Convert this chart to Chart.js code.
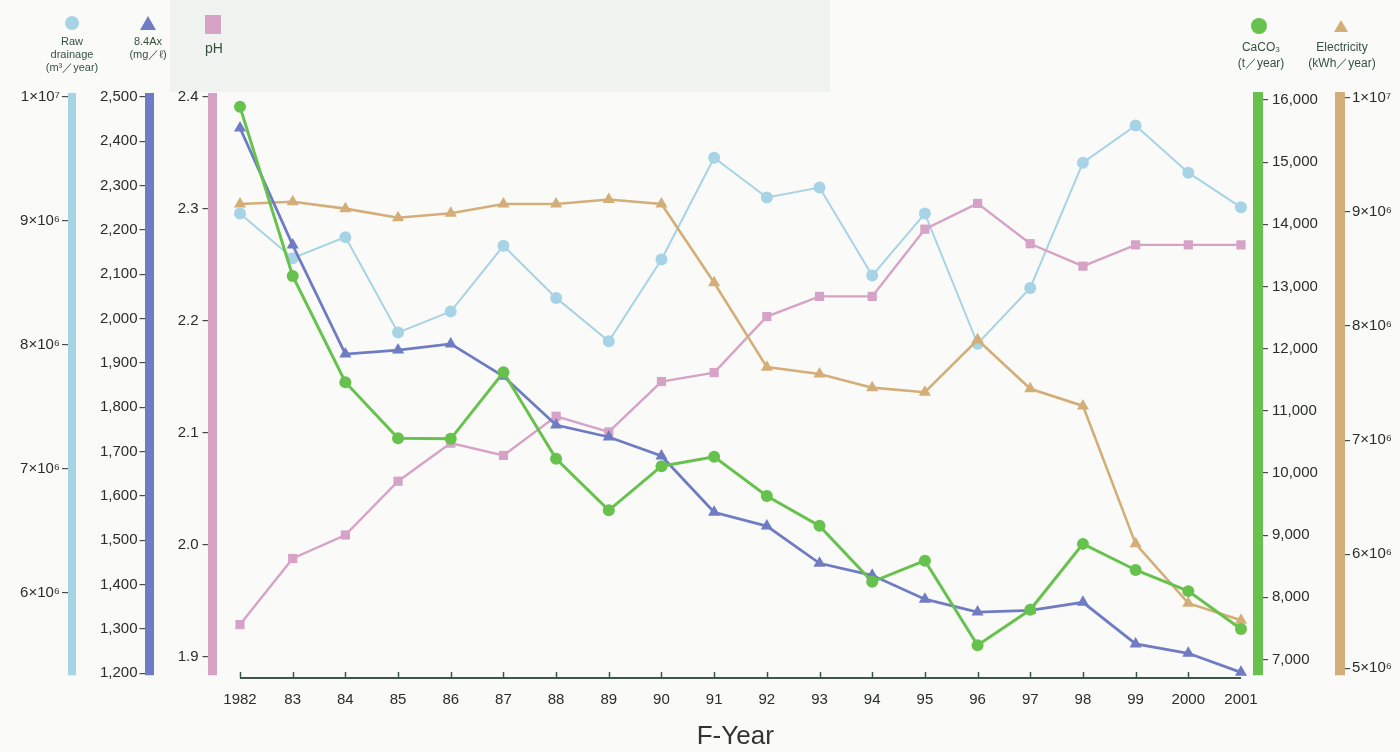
<!DOCTYPE html>
<html>
<head>
<meta charset="utf-8">
<script src="https://cdn.jsdelivr.net/npm/chart.js@4.4.1/dist/chart.umd.min.js"></script>
<style>
  html,body{margin:0;padding:0;background:#fafbf8;}
  #wrap{width:1400px;height:752px;position:relative;}
</style>
</head>
<body>
<div id="wrap"><canvas id="c" width="1400" height="752"></canvas></div>
<script>
// ---- data ----
const years=[1982,1983,1984,1985,1986,1987,1988,1989,1990,1991,1992,1993,1994,1995,1996,1997,1998,1999,2000,2001];
const yearLabels=['1982','83','84','85','86','87','88','89','90','91','92','93','94','95','96','97','98','99','2000','2001'];

const rawDrainage=[9.06e6,8.70e6,8.87e6,8.10e6,8.27e6,8.80e6,8.38e6,8.03e6,8.69e6,9.51e6,9.19e6,9.27e6,8.56e6,9.06e6,8.01e6,8.46e6,9.47e6,9.77e6,9.39e6,9.11e6];
const ax84=[2430,2166,1920,1929,1943,1870,1760,1733,1690,1563,1532,1448,1421,1367,1338,1342,1360,1266,1245,1202];
const ph=[1.929,1.988,2.009,2.057,2.091,2.080,2.115,2.101,2.146,2.154,2.204,2.222,2.222,2.282,2.305,2.269,2.249,2.268,2.268,2.268];
const caco3=[15890,13170,11460,10560,10550,11620,10230,9400,10110,10260,9630,9150,8250,8590,7230,7800,8860,8440,8100,7490];
const electricity=[9.07e6,9.09e6,9.03e6,8.95e6,8.99e6,9.07e6,9.07e6,9.11e6,9.07e6,8.38e6,7.64e6,7.58e6,7.46e6,7.42e6,7.88e6,7.45e6,7.30e6,6.09e6,5.57e6,5.42e6];

const drainTicks=[6e6,7e6,8e6,9e6,1e7];
const axTicks=[1200,1300,1400,1500,1600,1700,1800,1900,2000,2100,2200,2300,2400,2500];
const phTicks=[1.9,2.0,2.1,2.2,2.3,2.4];
const caTicks=[7000,8000,9000,10000,11000,12000,13000,14000,15000,16000];
const elecTicks=[5e6,6e6,7e6,8e6,9e6,1e7];

// ---- look ----
const C={drain:'#a6d3e5',ax:'#6f7cc3',ph:'#d6a2c6',ca:'#66c24c',elec:'#d4ae78',txt:'#2a2d2a',leg:'#34503f',axis:'#3e5648'};

const probe=document.createElement('canvas').getContext('2d');
function tw(f){probe.font=f;return probe.measureText('2,500 drainage 1982').width;}
const narrow = tw("20px 'Liberation Sans Narrow', monospace")!==tw('20px monospace');
const FAM = narrow ? "'Liberation Sans Narrow', 'Liberation Sans', Arial, sans-serif" : "'Liberation Sans', Arial, sans-serif";
const TS = narrow ? 17 : 15;

const SUP={'0':'⁰','1':'¹','2':'²','3':'³','4':'⁴','5':'⁵','6':'⁶','7':'⁷','8':'⁸','9':'⁹'};
function sci(v){const e=Math.floor(Math.log10(v)+1e-9);const m=Math.round(v/Math.pow(10,e));return m+'×10'+String(e).split('').map(d=>SUP[d]).join('');}
const comma=v=>Number(v).toLocaleString('en-US');

function yAxis(pos,weight,min,max,ticks,color,bw,width,fmt,pad){
  return {
    type:'linear',position:pos,weight:weight,min:min,max:max,
    afterBuildTicks:s=>{s.ticks=ticks.map(v=>({value:v}));},
    afterFit:s=>{s.width=width;},
    border:{display:true,color:color,width:bw},
    grid:{drawOnChartArea:false,drawTicks:true,tickLength:10,color:'#4a4a4a',lineWidth:1.2},
    ticks:{callback:fmt,color:C.txt,padding:pad,font:{family:FAM,size:TS}}
  };
}

const pts=arr=>years.map((x,i)=>({x:x,y:arr[i]}));
function ds(label,arr,axis,color,style,r,lw){
  return {label:label,data:pts(arr),yAxisID:axis,borderColor:color,backgroundColor:color,
    pointBackgroundColor:color,pointBorderColor:color,pointStyle:style,pointRadius:r,
    pointBorderWidth:0,borderWidth:lw,tension:0,clip:false};
}

// backdrop, legend marks and x axis line
const deco={
  id:'deco',
  beforeDraw(ch){
    const g=ch.ctx;g.save();
    g.fillStyle='#fafbf8';g.fillRect(0,0,1400,752);
    g.fillStyle='#f0f3ef';g.fillRect(170,0,660,92);
    g.restore();
  },
  afterDatasetsDraw(ch){
    const g=ch.ctx,x=ch.scales.x,top=ch.chartArea.bottom+3;
    g.save();
    g.strokeStyle=C.axis;g.lineWidth=1.8;
    g.beginPath();g.moveTo(x.getPixelForValue(years[0]),top);g.lineTo(x.getPixelForValue(years[years.length-1]),top);g.stroke();
    g.lineWidth=1.5;
    years.slice(0,-1).forEach(v=>{const px=Math.round(x.getPixelForValue(v))+0.5;g.beginPath();g.moveTo(px,top);g.lineTo(px,top-6);g.stroke();});
    g.restore();
  },
  afterDraw(ch){
    const g=ch.ctx;g.save();
    // markers
    g.fillStyle=C.drain;g.beginPath();g.arc(72,23,7,0,Math.PI*2);g.fill();
    g.fillStyle=C.ax;g.beginPath();g.moveTo(148,16);g.lineTo(156,30);g.lineTo(140,30);g.closePath();g.fill();
    g.fillStyle=C.ph;g.fillRect(205,15,16,19);
    g.fillStyle=C.ca;g.beginPath();g.arc(1259,26,8,0,Math.PI*2);g.fill();
    g.fillStyle=C.elec;g.beginPath();g.moveTo(1341,20);g.lineTo(1348,32);g.lineTo(1334,32);g.closePath();g.fill();
    // texts
    g.fillStyle=C.leg;g.textAlign='center';g.textBaseline='middle';
    g.font='11px '+FAM;
    g.fillText('Raw',72,42);g.fillText('drainage',72,55);g.fillText('(m³／year)',72,68);
    g.fillText('8.4Ax',148,42);g.fillText('(mg／ℓ)',148,55);
    g.font='12px '+FAM;
    g.fillText('CaCO₃',1261,48);g.fillText('(t／year)',1261,64);
    g.fillText('Electricity',1342,48);g.fillText('(kWh／year)',1342,64);
    g.font='14px '+FAM;
    g.fillText('pH',214,49);
    g.restore();
  }
};

new Chart(document.getElementById('c'),{
  type:'line',
  data:{datasets:[
    ds('CaCO3',caco3,'yCa',C.ca,'circle',6,3),
    ds('8.4Ax',ax84,'yAx',C.ax,'triangle',7,2.8),
    ds('Electricity',electricity,'yElec',C.elec,'triangle',7,2.6),
    ds('pH',ph,'yPh',C.ph,'rect',6.5,2.4),
    ds('Raw drainage',rawDrainage,'yDrain',C.drain,'circle',6,2)
  ]},
  options:{
    responsive:false,animation:false,devicePixelRatio:1,
    layout:{padding:{top:97,left:0,right:0,bottom:0}},
    plugins:{legend:{display:false},tooltip:{enabled:false}},
    scales:{
      x:{type:'linear',min:1981.478,max:2001.323,
        afterBuildTicks:s=>{s.ticks=years.map(v=>({value:v}));},
        afterFit:s=>{s.height=77;},
        grid:{display:false},border:{display:false},
        ticks:{callback:(v,i)=>yearLabels[i],autoSkip:false,maxRotation:0,padding:8,color:C.txt,font:{family:FAM,size:TS}},
        title:{display:true,text:'F-Year',color:'#333',font:{family:FAM,size:26},padding:{top:0,bottom:0}}
      },
      yDrain:yAxis('left',2,5.339e6,1e7,drainTicks,C.drain,8,72,v=>sci(v),2),
      yAx:yAxis('left',1,1196,2500,axTicks,C.ax,9,77.5,v=>comma(v),2),
      yPh:yAxis('left',0,1.884,2.4,phTicks,C.ph,9,63,v=>Number(v).toFixed(1),4),
      yCa:yAxis('right',0,6751,16048,caTicks,C.ca,10,82,v=>comma(v),4),
      yElec:yAxis('right',1,4.94e6,1.0009e7,elecTicks,C.elec,10,60,v=>sci(v),2)
    }
  },
  plugins:[deco]
});
</script>
</body>
</html>
